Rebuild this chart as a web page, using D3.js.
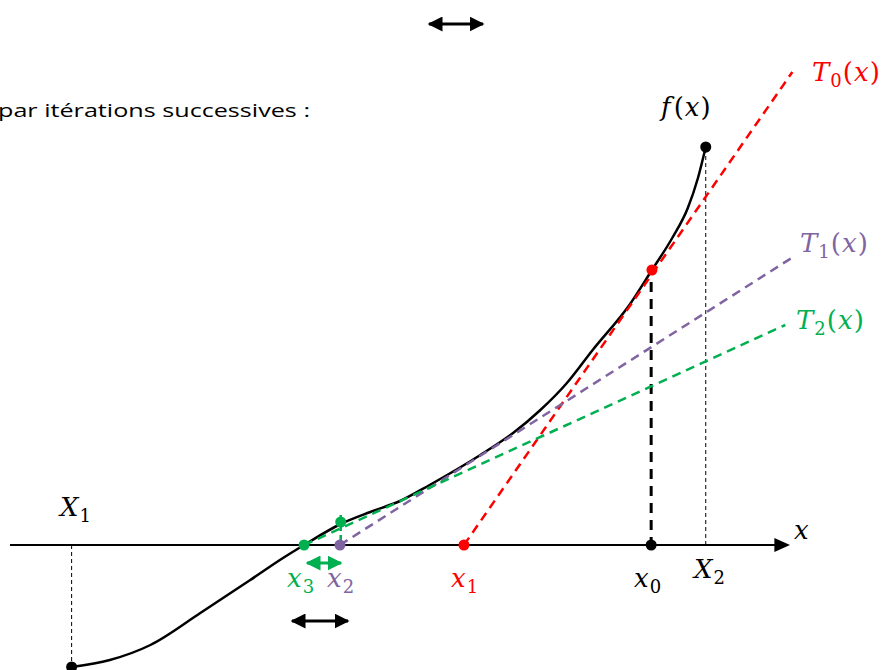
<!DOCTYPE html>
<html>
<head>
<meta charset="utf-8">
<script src="https://cdn.jsdelivr.net/npm/d3@7"></script>
<style>
  body { margin: 0; background: #fff; }
  svg { display: block; }
</style>
</head>
<body>
<div class="canvas"></div>
<script>
// data (abstract units: axis runs u = 0..10, v = 0 on the axis)
const curveU = [0.79, 1.28, 1.8, 2.44, 3.08, 3.5, 3.77, 4.24, 4.62, 5.0, 5.38, 6.03, 6.45, 6.8, 7.14, 7.47, 7.95, 8.23, 8.49, 8.69, 8.82, 8.92];
const curveV = [-2.44, -2.3, -2.0, -1.36, -0.7, -0.26, 0, 0.42, 0.66, 0.88, 1.2, 1.8, 2.24, 2.7, 3.24, 3.9, 4.82, 5.5, 6.14, 6.74, 7.34, 7.96];

const rootNames = ['x0', 'x1', 'x2', 'x3'];
const rootU = [8.22, 5.82, 4.23, 3.77];
const rootColors = ['#000000', '#ff0000', '#8064a2', '#00b050'];

const tangentNames = ['T0', 'T1', 'T2'];
const tangentStart = [[5.82, 0], [4.23, 0], [3.77, 0]];
const tangentEnd = [[10.03, 9.46], [10.04, 5.76], [9.94, 4.4]];
const tangentColors = ['#ff0000', '#8064a2', '#00b050'];

const boundU = [0.79, 8.92];          // X1, X2
const boundV = [-2.44, 7.96];
const f0 = [8.23, 5.5];               // f(x0)
const f2 = [4.24, 0.46];              // f(x2)

// dimensions
const width = 886, height = 670;
const svg = d3.select('.canvas').append('svg')
    .attr('width', width)
    .attr('height', height);

// scales
const xScale = d3.scaleLinear().domain([0, 10]).range([10, 790]);
const yScale = d3.scaleLinear().domain([0, 1]).range([545, 495]);

const mathFont = '"DejaVu Serif", serif';

// arrow markers
const defs = svg.append('defs');
const mk = (id, color) => {
    defs.append('marker')
        .attr('id', id)
        .attr('viewBox', '0 0 10 10')
        .attr('refX', 9).attr('refY', 5)
        .attr('markerWidth', 5).attr('markerHeight', 5)
        .attr('markerUnits', 'strokeWidth')
        .attr('orient', 'auto-start-reverse')
        .append('path')
        .attr('d', 'M0,0 L10,5 L0,10 Z')
        .attr('fill', color);
};
mk('arrBlack', '#000');
mk('arrGreen', '#00b050');

// intro text
svg.append('text')
    .attr('x', -2).attr('y', 117)
    .attr('font-family', '"Open Sans", sans-serif')
    .attr('font-size', 19)
    .attr('textLength', 312)
    .attr('lengthAdjust', 'spacingAndGlyphs')
    .text('par itérations successives :');

// x axis
svg.append('line')
    .attr('x1', xScale(0)).attr('x2', xScale(9.82))
    .attr('y1', yScale(0)).attr('y2', yScale(0))
    .attr('stroke', '#000').attr('stroke-width', 2);
svg.append('path')
    .attr('d', `M${xScale(10)},${yScale(0)} L${xScale(9.8)},${yScale(0) - 7} L${xScale(9.8)},${yScale(0) + 7} Z`)
    .attr('fill', '#000');

// thin dashed guides for X1, X2
boundU.forEach((u, i) => {
    svg.append('line')
        .attr('x1', xScale(u)).attr('x2', xScale(u))
        .attr('y1', yScale(0)).attr('y2', yScale(boundV[i]))
        .attr('stroke', '#000').attr('stroke-width', 1)
        .attr('stroke-dasharray', '4,3');
});

// thick dashed line from f(x0) to x0
svg.append('line')
    .attr('x1', xScale(rootU[0])).attr('x2', xScale(rootU[0]))
    .attr('y1', yScale(f0[1]) + 12).attr('y2', yScale(0))
    .attr('stroke', '#000').attr('stroke-width', 3)
    .attr('stroke-dasharray', '10,7');

// short green dashed from f(x2) down to x2
svg.append('line')
    .attr('x1', xScale(f2[0])).attr('x2', xScale(f2[0]))
    .attr('y1', yScale(f2[1]) - 7).attr('y2', yScale(0))
    .attr('stroke', '#00b050').attr('stroke-width', 2.5)
    .attr('stroke-dasharray', '6,4');

// the curve f
const line = d3.line()
    .x(d => xScale(d[0]))
    .y(d => yScale(d[1]))
    .curve(d3.curveMonotoneX);
svg.append('path')
    .datum(d3.zip(curveU, curveV))
    .attr('d', line)
    .attr('fill', 'none')
    .attr('stroke', '#000')
    .attr('stroke-width', 2.5);

// tangents
tangentNames.forEach((n, i) => {
    svg.append('line')
        .attr('x1', xScale(tangentStart[i][0])).attr('y1', yScale(tangentStart[i][1]))
        .attr('x2', xScale(tangentEnd[i][0])).attr('y2', yScale(tangentEnd[i][1]))
        .attr('stroke', tangentColors[i])
        .attr('stroke-width', 2.5)
        .attr('stroke-dasharray', '9,6');
});

// points
const dot = (u, v, c) => svg.append('circle')
    .attr('cx', xScale(u)).attr('cy', yScale(v))
    .attr('r', 5.5).attr('fill', c);
rootU.forEach((u, i) => dot(u, 0, rootColors[i]));
dot(f0[0], f0[1], '#ff0000');
dot(f2[0], f2[1], '#00b050');
boundU.forEach((u, i) => dot(u, boundV[i], '#000'));

// double arrows
const dblArrow = (x1, x2, y, id, color) => svg.append('line')
    .attr('x1', x1).attr('x2', x2).attr('y1', y).attr('y2', y)
    .attr('stroke', color).attr('stroke-width', 3)
    .attr('marker-start', `url(#${id})`)
    .attr('marker-end', `url(#${id})`);
dblArrow(429, 483, 24, 'arrBlack', '#000');
dblArrow(292, 348, 621, 'arrBlack', '#000');
dblArrow(307, 341, 563, 'arrGreen', '#00b050');

// math labels: base letter + subscript
const label = (x, y, base, sub, color, tail) => {
    const t = svg.append('text')
        .attr('x', x).attr('y', y)
        .attr('font-family', mathFont)
        .attr('font-size', 26)
        .attr('fill', color);
    t.append('tspan').attr('font-style', 'italic').text(base);
    if (sub !== null) {
        t.append('tspan').attr('font-size', 18).attr('dy', 6).attr('dx', 1).text(sub);
    }
    if (tail) {
        t.append('tspan').attr('dy', sub !== null ? -6 : 0).attr('dx', 1).text('(');
        t.append('tspan').attr('font-style', 'italic').attr('dx', 1).text('x');
        t.append('tspan').attr('dx', 1).text(')');
    }
};
label(812, 81, 'T', '0', '#ff0000', true);
label(800, 252, 'T', '1', '#8064a2', true);
label(796, 329, 'T', '2', '#00b050', true);
label(60, 516, 'X', '1', '#000', false);
label(694, 578, 'X', '2', '#000', false);
label(451, 587, 'x', '1', '#ff0000', false);
label(634, 587, 'x', '0', '#000', false);
label(287, 587, 'x', '3', '#00b050', false);
label(327, 587, 'x', '2', '#8064a2', false);
label(794, 539, 'x', null, '#000', false);

// f(x)
const fx = svg.append('text')
    .attr('x', 661).attr('y', 116)
    .attr('font-family', mathFont)
    .attr('font-size', 26);
fx.append('tspan').attr('font-style', 'italic').text('f');
fx.append('tspan').attr('dx', 3).text('(');
fx.append('tspan').attr('font-style', 'italic').attr('dx', 1).text('x');
fx.append('tspan').attr('dx', 1).text(')');
</script>
</body>
</html>
